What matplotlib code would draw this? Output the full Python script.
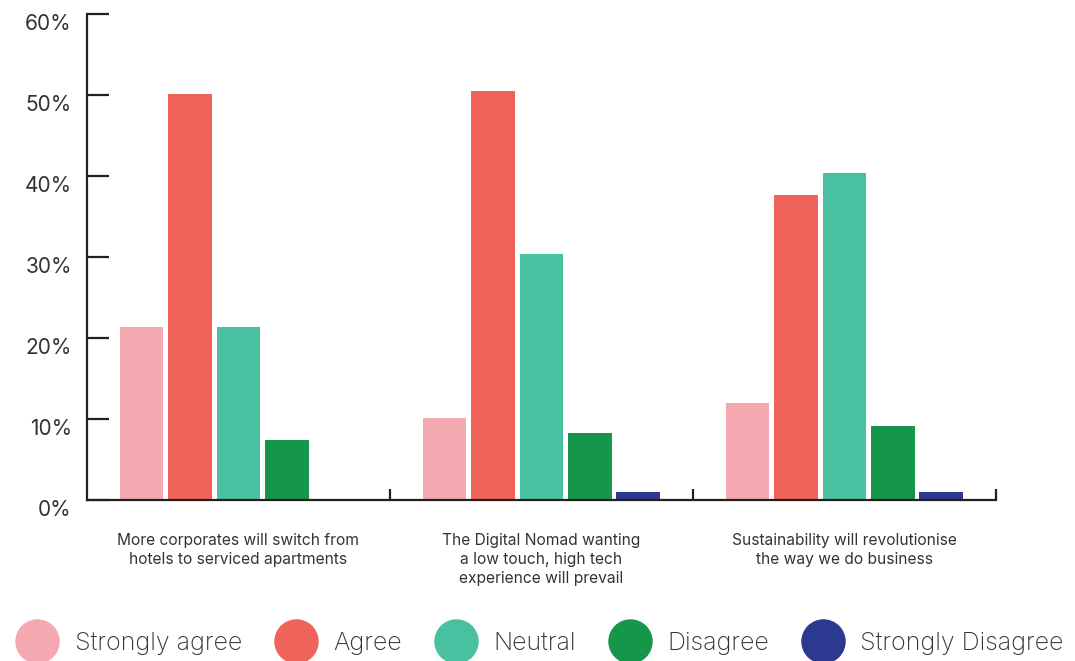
import numpy as np
import matplotlib.pyplot as plt
from matplotlib.lines import Line2D
from matplotlib.transforms import ScaledTranslation

plt.rcParams['font.family'] = ['Inter', 'DejaVu Sans']

# Data
categories = ["More corporates will switch from\nhotels to serviced apartments",
              "The Digital Nomad wanting\na low touch, high tech\nexperience will prevail",
              "Sustainability will revolutionise\nthe way we do business"]
series = ["Strongly agree", "Agree", "Neutral", "Disagree", "Strongly Disagree"]
strongly_agree = [21.4, 10.1, 12.0]
agree = [50.1, 50.5, 37.7]
neutral = [21.4, 30.4, 40.4]
disagree = [7.4, 8.3, 9.1]
strongly_disagree = [0.0, 1.0, 1.0]
yticks = [0, 10, 20, 30, 40, 50, 60]

values = [strongly_agree, agree, neutral, disagree, strongly_disagree]
colors = ["#F4A9B0", "#F0635B", "#49C1A1", "#16964A", "#2B3990"]
axis_col = "#231F20"
text_col = "#333333"

fig = plt.figure(figsize=(10.75, 6.61), dpi=100)
ax = fig.add_axes([0.0809, 0.2436, 0.8456, 0.7352])

centers = np.arange(len(categories)) + 0.5
pitch = 0.16
width = 0.145
for i, (vals, c) in enumerate(zip(values, colors)):
    ax.bar(centers + (i - 2) * pitch, vals, width=width, color=c, zorder=1)

ax.set_xlim(0, 3)
ax.set_ylim(0, 60)

for s in ["top", "right"]:
    ax.spines[s].set_visible(False)
for s in ["left", "bottom"]:
    ax.spines[s].set_color(axis_col)
    ax.spines[s].set_linewidth(1.6)
    ax.spines[s].set_zorder(3)

# y axis
ax.set_yticks(yticks)
ax.set_yticklabels([f"{v}%" for v in yticks], fontsize=15, color=text_col)
ax.tick_params(axis="y", direction="in", length=16, width=1.6, color=axis_col, pad=11)
offset = ScaledTranslation(0, -6 / 72, fig.dpi_scale_trans)
for lab in ax.get_yticklabels():
    lab.set_transform(lab.get_transform() + offset)

# x axis: boundary ticks (major) and category labels (minor)
ax.set_xticks([1, 2, 3])
ax.set_xticklabels([])
ax.tick_params(axis="x", which="major", direction="in", length=8, width=1.6, color=axis_col)
ax.set_xticks(centers, minor=True)
ax.set_xticklabels(categories, minor=True, fontsize=11.2, color=text_col, linespacing=1.32)
ax.tick_params(axis="x", which="minor", length=0, pad=24)

# legend
handles = [Line2D([], [], marker="o", linestyle="", markersize=31,
                  markerfacecolor=c, markeredgecolor=c) for c in colors]
fig.legend(handles, series, loc="lower center", ncol=5, frameon=False,
           bbox_to_anchor=(0.505, -0.025), handletextpad=0.9,
           columnspacing=1.55, labelcolor=text_col, handlelength=1.2,
           prop={'weight': 'light', 'size': 18})

fig.savefig("out.png", dpi=100)
